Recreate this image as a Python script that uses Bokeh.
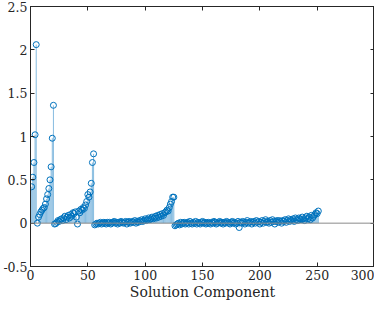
from bokeh.plotting import figure
from bokeh.models import LinearAxis, FixedTicker, CustomJSTickFormatter, Span, Range1d
from bokeh.embed import file_html
from bokeh.resources import INLINE

seg1 = [0.42, 0.53, 0.70, 1.02, 2.06]
seg2 = [0.00, 0.07, 0.10, 0.13, 0.15, 0.17, 0.18, 0.22, 0.28, 0.33,
        0.40, 0.50, 0.65, 0.98, 1.36]
seg3 = [-0.01, -0.005, 0.01, 0.03, 0.02, 0.04, 0.05, 0.03, 0.06, 0.08,
        0.04, 0.07, 0.09, 0.06, 0.10, 0.08, 0.12, 0.11, 0.13, 0.07,
        -0.01, 0.14, 0.12, 0.16, 0.15, 0.18, 0.17, 0.21, 0.25, 0.33,
        0.30, 0.36, 0.46, 0.70, 0.80]
seg4 = [-0.02, -0.01, 0.00, -0.01, 0.00, 0.01, -0.01, 0.00, 0.01, 0.00,
        -0.01, 0.01, 0.00, 0.01, -0.01, 0.00, 0.01, 0.02, 0.00, 0.01,
        -0.01, 0.01, 0.00, 0.02, 0.01, 0.00, 0.01, 0.02, -0.01, 0.01,
        0.02, 0.00, 0.01, 0.02, 0.01, 0.03, 0.00, 0.02, 0.01, 0.03,
        0.02, 0.04, 0.02, 0.03, 0.05, 0.03, 0.04, 0.06, 0.04, 0.05,
        0.07, 0.05, 0.06, 0.08, 0.06, 0.09, 0.07, 0.10, 0.08, 0.11,
        0.09, 0.12, 0.13, 0.15, 0.14, 0.18, 0.22, 0.25, 0.30, 0.30]
seg5 = [-0.03, -0.02, -0.01, 0.00, -0.02, 0.01, -0.01, 0.00, 0.01, -0.01,
        0.00, 0.01, -0.01, 0.02, 0.00, -0.01, 0.01, 0.00, 0.02, -0.01,
        0.01, 0.00, -0.01, 0.01, 0.02, 0.00, 0.01, -0.01, 0.00, 0.01,
        0.00, -0.01, 0.01, 0.00, 0.02, 0.01, -0.01, 0.00, 0.01, 0.02,
        0.00, 0.01, -0.01, 0.01, 0.00, 0.02, 0.01, 0.00, -0.01, 0.01,
        0.02, 0.00, 0.01, -0.01, 0.00, 0.02, -0.05, 0.01, 0.00, 0.02,
        0.01, -0.01, 0.01, 0.03, 0.00, 0.01, 0.02, -0.01, 0.01, 0.02,
        0.00, 0.03, 0.01, 0.02, -0.01, 0.01, 0.03, 0.00, 0.02, 0.04,
        0.01, 0.02, 0.00, 0.03, 0.01, 0.04, 0.02, -0.01, 0.02, 0.03,
        0.01, 0.03, 0.02, 0.00, 0.03, 0.02, 0.04, 0.01, 0.03, 0.05,
        0.02, 0.04, 0.03, 0.05, 0.02, 0.06, 0.04, 0.03, 0.06, 0.05,
        0.04, 0.07, 0.05, 0.03, 0.06, 0.08, 0.05, 0.07, 0.04, 0.09,
        0.06, 0.08, 0.10, 0.12, 0.11, 0.14]

values = seg1 + seg2 + seg3 + seg4 + seg5
index = list(range(1, len(values) + 1))

x_ticks = [0, 50, 100, 150, 200, 250, 300]
y_ticks = [-0.5, 0, 0.5, 1, 1.5, 2, 2.5]
x_label = "Solution Component"

BLUE = "#0072BD"
AX = "#262626"
FONT = "DejaVu Serif"

p = figure(width=374, height=302, output_backend="svg", toolbar_location=None,
           x_range=Range1d(0, 300), y_range=Range1d(-0.5, 2.5),
           min_border_left=0, min_border_right=0, min_border_top=6, min_border_bottom=0)
p.grid.visible = False
p.outline_line_color = AX
p.outline_line_width = 1
p.background_fill_color = "white"

p.add_layout(Span(location=0, dimension="width", line_color="#8a8a8a", line_width=1))
p.segment(x0=index, y0=[0] * len(values), x1=index, y1=values,
          line_color=BLUE, line_width=0.6, line_alpha=0.8)
p.scatter(index, values, marker="circle", size=6, fill_color=None,
          line_color=BLUE, line_width=1)

fmt = CustomJSTickFormatter(code="return String(tick);")
blank = CustomJSTickFormatter(code="return '';")

def style(ax, labels=True):
    ax.axis_line_color = AX
    ax.major_tick_line_color = AX
    ax.major_tick_in = 4
    ax.major_tick_out = 0
    ax.minor_tick_line_color = None
    ax.major_label_text_font = FONT
    ax.major_label_text_font_size = "12.5px"
    ax.major_label_text_color = AX
    ax.major_label_standoff = 3
    if not labels:
        ax.major_label_text_font_size = "0px"
        ax.major_label_standoff = 0

p.xaxis.ticker = FixedTicker(ticks=x_ticks)
p.yaxis.ticker = FixedTicker(ticks=y_ticks)
p.xaxis.formatter = fmt
p.yaxis.formatter = fmt
style(p.xaxis[0])
style(p.yaxis[0])
p.xaxis[0].axis_label = x_label
p.xaxis[0].axis_label_text_font = FONT
p.xaxis[0].axis_label_text_font_size = "14px"
p.xaxis[0].axis_label_text_font_style = "normal"
p.xaxis[0].axis_label_text_color = AX
p.xaxis[0].axis_label_standoff = 1

top = LinearAxis(ticker=FixedTicker(ticks=x_ticks), formatter=blank)
right = LinearAxis(ticker=FixedTicker(ticks=y_ticks), formatter=blank)
style(top, False)
style(right, False)
p.add_layout(top, "above")
p.add_layout(right, "right")

open("out.html", "w").write(file_html(p, INLINE))
